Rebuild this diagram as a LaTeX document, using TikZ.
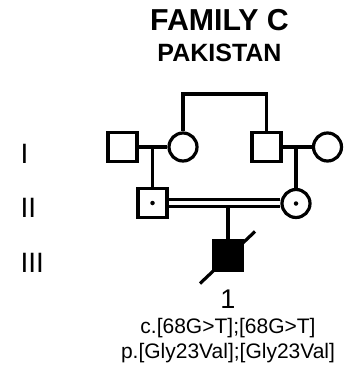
\documentclass[tikz,border=0pt]{standalone}
\usepackage{fontspec}
\setmainfont{Liberation Sans}
\begin{document}
\begin{tikzpicture}[x=1pt,y=-1pt,
  lw/.style={line width=3.2pt},
  male/.style={draw,lw,rectangle,minimum size=29pt,inner sep=0pt},
  female/.style={draw,lw,circle,minimum size=28pt,inner sep=0pt},
  affected/.style={fill=black},
  carrier/.style={fill=black,circle,inner sep=0pt,minimum size=4.5pt},
  gen/.style={font=\fontsize{28}{30}\selectfont,anchor=base west},
  rel/.style={lw},
  lbl/.style={font=\fontsize{21}{23}\selectfont,anchor=base}]
\useasboundingbox (0,0) rectangle (356,369);

% title
\node[font=\bfseries\fontsize{30.3}{32}\selectfont,anchor=base] (title) at (219.5,31) {FAMILY C};
\node[font=\bfseries\fontsize{25}{27}\selectfont,anchor=base] (country) at (219.5,62) {PAKISTAN};

% generation numerals
\node[gen] (gI) at (17,163) {I};
\node[gen] (gII) at (17,217) {II};
\node[gen] (gIII) at (17,272) {III};

% generation I
\node[male] (I1) at (122.5,147) {};
\node[female] (I2) at (183,147) {};
\node[male] (I3) at (266.5,147) {};
\node[female] (I4) at (327.5,147) {};

% generation II
\node[male] (II1) at (152.5,203) {};
\node[carrier] (d1) at (II1.center) {};
\node[female] (II2) at (296,203.5) {};
\node[carrier] (d2) at (II2.center) {};

% generation III
\node[male,affected] (III1) at (228,255.5) {};

% sibship of I-2 and I-3
\coordinate (sibL) at (183,94);
\coordinate (sibR) at (266.5,94);
\draw[rel] (I2.north) -- (sibL) -- (sibR) -- (I3.north);

% marriages in generation I and lines of descent
\draw[rel] (I1.east) -- (I2.west);
\draw[rel] (I3.east) -- (I4.west);
\coordinate (m1) at (152.5,147);
\coordinate (m2) at (296,147);
\draw[rel] (m1) -- (II1.north);
\draw[rel] (m2) -- (II2.north);

% consanguineous marriage
\coordinate (cA) at (II1.east |- 0,199.5);
\coordinate (cB) at (II2.west |- 0,199.5);
\coordinate (cC) at (II1.east |- 0,206.5);
\coordinate (cD) at (II2.west |- 0,206.5);
\draw[line width=2.7pt] (cA) -- (cB);
\draw[line width=2.7pt] (cC) -- (cD);
\coordinate (m3) at (228,206.5);
\draw[rel] (m3) -- (III1.north);

% deceased
\coordinate (dS) at (200,283.5);
\coordinate (dE) at (255,231.5);
\draw[rel] (dS) -- (dE);

% labels
\node[lbl,font=\fontsize{27}{29}\selectfont] (n1) at (228,308) {1};
\node[lbl] (g1) at (228,333) {c.[68G>T];[68G>T]};
\node[lbl] (p1) at (228,358) {p.[Gly23Val];[Gly23Val]};
\end{tikzpicture}
\end{document}
